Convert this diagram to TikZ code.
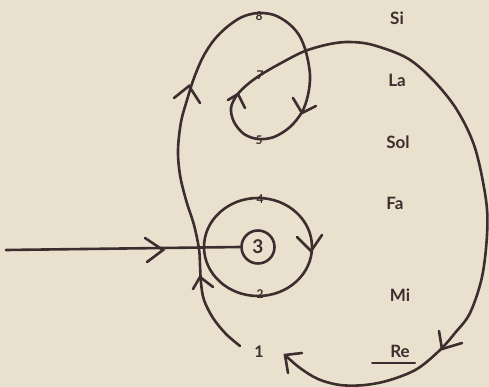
\documentclass[tikz,border=0pt]{standalone}
\usepackage{fontspec}
\setmainfont{Lato}
\definecolor{bgc}{RGB}{233,225,206}
\definecolor{inkc}{RGB}{60,46,46}
\begin{document}
\begin{tikzpicture}[x=1pt,y=-1pt,
  ink/.style={draw=inkc, line width=2.6pt, line cap=round, line join=round},
  chev/.style={draw=inkc, line width=2.6pt, line cap=round, line join=miter},
  lbl/.style={text=inkc, font=\bfseries\fontsize{17}{19}\selectfont, inner sep=0pt},
  num/.style={text=inkc, font=\bfseries\fontsize{12}{13}\selectfont, inner sep=0pt},
  bignum/.style={text=inkc, font=\bfseries\fontsize{19}{20}\selectfont, inner sep=0pt}]
\fill[bgc] (0,0) rectangle (489,387);
\useasboundingbox (0,0) rectangle (489,387);

% right-hand labels
\node[lbl] (si)  at (397,18)  {Si};
\node[lbl] (la)  at (397,80)  {La};
\node[lbl] (sol) at (398,142) {Sol};
\node[lbl] (fa)  at (395,203) {Fa};
\node[lbl] (mi)  at (400,295) {Mi};
\node[lbl] (re)  at (400,351) {Re};
\coordinate (ulA) at (372,363);
\coordinate (ulB) at (415,363);
\draw[ink, line width=2pt] (ulA) -- (ulB);

% circle 3 and its ring
\node[circle, ink, minimum size=33pt, inner sep=0pt, bignum] (c3) at (258,247) {3};
\draw[ink] (258,247) ellipse [x radius=54pt, y radius=49pt];

% entry line
\coordinate (in) at (6,250);
\draw[ink] (in) -- (c3.west);

% main curve
\draw[ink] plot[smooth, tension=0.55] coordinates {
 (240,346) (226,334) (213,318) (204,300) (201,283) (200,265) (199,249)
 (194,225) (186,200) (180,175) (178,150) (181,122) (187,100) (194,78)
 (203,57) (214,40) (227,27) (242,17) (258,13) (274,15) (288,23) (299,35)
 (306,52) (310,75) (308,95) (302,112) (290,127) (274,137) (258,139)
 (244,134) (234,122) (231,108) (237,95) (248,84) (262,74) (283,62)
 (305,51) (330,44) (350,42) (373,45) (407,58) (433,80) (457,110)
 (475,148) (486,200) (487,235) (482,277) (470,313) (455,333) (440,350)
 (417,369) (390,380) (365,385) (340,385) (318,379) (300,368) (286,356)};

% number labels on the curves
\node[num] (n8) at (259,16)  {8};
\node[num] (n7) at (260,75)  {7};
\node[num] (n5) at (259,140) {5};
\node[num] (n4) at (260,199) {4};
\node[num] (n2) at (260,294) {2};
\node[lbl, font=\bfseries\fontsize{16}{17}\selectfont] (n1) at (259,352) {1};

% chevron arrowheads
\draw[chev] (145,238) -- (163,250) -- (147,262);
\draw[chev] (297,237) -- (311,251) -- (322,235);
\draw[chev] (193,289) -- (200,277) -- (213,287);
\draw[chev] (174,98) -- (189,86) -- (200,103);
\draw[chev] (293,98) -- (302,113) -- (316,106);
\draw[chev] (228,100) -- (238,94) -- (245,108);
\draw[chev] (439,331) -- (442,349) -- (462,343);
\draw[chev] (302,353) -- (285,355) -- (288,373);
\end{tikzpicture}
\end{document}
